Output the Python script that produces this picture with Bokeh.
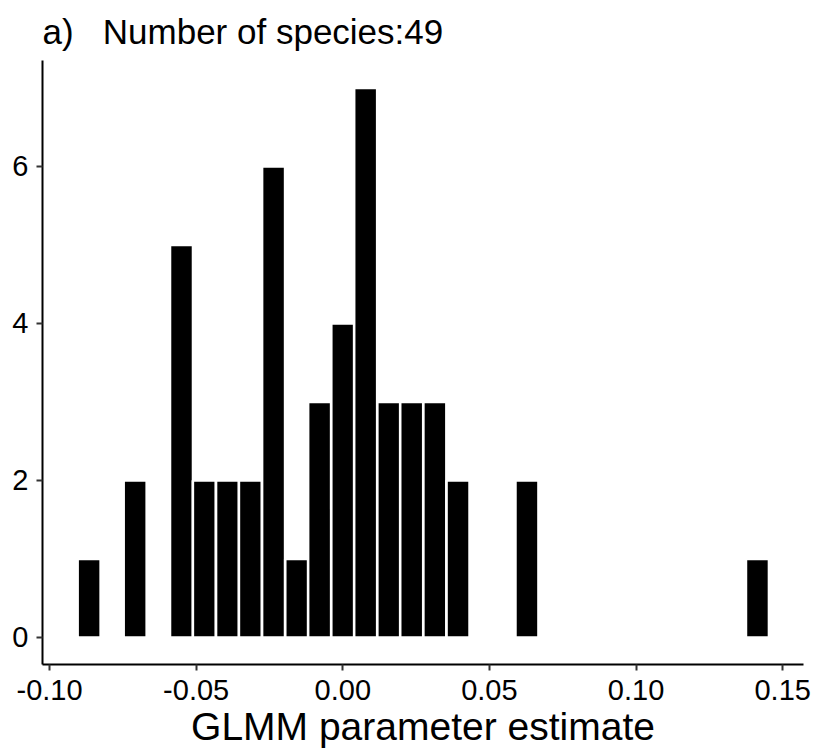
from bokeh.plotting import figure
from bokeh.models import Range1d, FixedTicker, NumeralTickFormatter
from bokeh.embed import file_html
from bokeh.resources import INLINE

# Histogram (30 bins) of GLMM parameter estimates
bin_centers = [-0.0865, -0.0708, -0.0550, -0.0472, -0.0393, -0.0315, -0.0236,
               -0.0157, -0.0079, 0.0000, 0.0078, 0.0157, 0.0235, 0.0314,
               0.0393, 0.0628, 0.1414]
counts = [1, 2, 5, 2, 2, 2, 6, 1, 3, 4, 7, 3, 3, 3, 2, 2, 1]
bin_width = 0.00786

x_ticks = [-0.10, -0.05, 0.00, 0.05, 0.10, 0.15]
y_ticks = [0, 2, 4, 6]

panel_tag = "a)"
n_species = sum(counts)

FONT = "Liberation Sans"

p = figure(width=818, height=756, output_backend="svg", toolbar_location=None,
           x_range=Range1d(-0.1024, 0.1571), y_range=Range1d(-0.344, 7.35),
           min_border_left=42, min_border_right=15, min_border_top=60,
           min_border_bottom=92)

p.vbar(x=bin_centers, top=counts, bottom=0, width=bin_width,
       fill_color="black", line_color="white", line_width=2.6)

p.title.text = panel_tag + "\u00a0\u00a0\u00a0Number of species:" + str(n_species)
p.title.text_font = FONT
p.title.text_font_size = "35px"
p.title.text_font_style = "normal"
p.title.text_color = "black"
p.title.align = "left"
p.title.offset = 0
p.title.standoff = 19

p.grid.visible = False
p.outline_line_color = None
p.background_fill_color = "white"
p.border_fill_color = "white"

for ax in (p.xaxis[0], p.yaxis[0]):
    ax.axis_line_color = "black"
    ax.axis_line_width = 2
    ax.major_tick_line_color = "#333333"
    ax.major_tick_line_width = 2
    ax.major_tick_in = 0
    ax.major_tick_out = 6
    ax.minor_tick_line_color = None
    ax.major_label_text_font = FONT
    ax.major_label_text_font_size = "29px"
    ax.major_label_text_color = "black"

p.xaxis.ticker = FixedTicker(ticks=x_ticks)
p.xaxis.formatter = NumeralTickFormatter(format="0.00")
p.xaxis.major_label_standoff = 9
p.xaxis.axis_label = "GLMM parameter estimate"
p.xaxis.axis_label_text_font = FONT
p.xaxis.axis_label_text_font_size = "39px"
p.xaxis.axis_label_text_font_style = "normal"
p.xaxis.axis_label_text_color = "black"
p.xaxis.axis_label_standoff = 2

p.yaxis.ticker = FixedTicker(ticks=y_ticks)
p.yaxis.major_label_standoff = 8

open("out.html", "w").write(file_html(p, INLINE))
